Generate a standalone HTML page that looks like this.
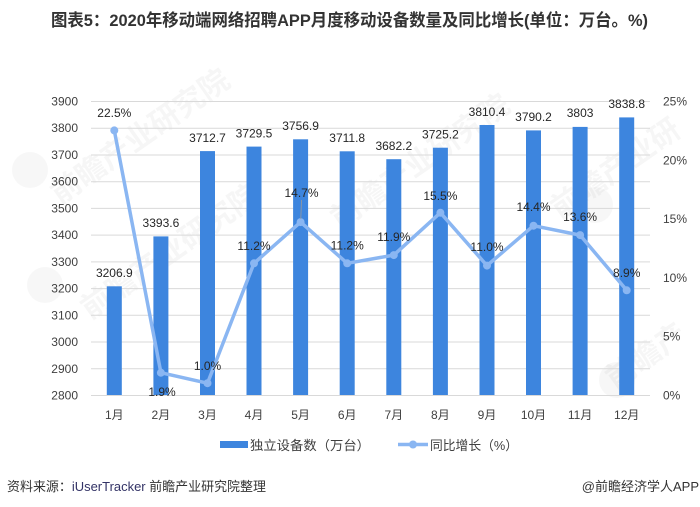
<!DOCTYPE html>
<html><head><meta charset="utf-8"><style>
html,body{margin:0;padding:0;background:#fff;}
svg{display:block;}
text{font-family:"Liberation Sans","Noto Sans CJK SC",sans-serif;}
</style></head><body>
<svg width="700" height="507" viewBox="0 0 700 507" xmlns="http://www.w3.org/2000/svg">
<rect width="700" height="507" fill="#fff"/>
<!-- watermarks -->
<g fill="#000" opacity="0.03" font-size="30" font-weight="bold">
<text transform="translate(60,205) rotate(-35)">前瞻产业研究院</text>
<text transform="translate(90,320) rotate(-35)">前瞻产业研究院</text>
<text transform="translate(340,230) rotate(-35)">前瞻产业研究院</text>
<text transform="translate(560,220) rotate(-35)">前瞻产业研</text>
<text transform="translate(615,390) rotate(-35)">前瞻产</text>
</g>
<g fill="#000" opacity="0.03">
<circle cx="30" cy="170" r="18"/><circle cx="45" cy="285" r="18"/><circle cx="595" cy="205" r="18"/><circle cx="617" cy="380" r="18"/>
</g>
<!-- title -->
<text x="51" y="26" font-size="17" font-weight="bold" fill="#333" textLength="597" lengthAdjust="spacingAndGlyphs">图表5：2020年移动端网络招聘APP月度移动设备数量及同比增长(单位：万台。%)</text>
<!-- gridlines -->
<g stroke="#d9d9d9" stroke-width="1">
<line x1="91" x2="650" y1="101.5" y2="101.5"/>
<line x1="91" x2="650" y1="128.2" y2="128.2"/>
<line x1="91" x2="650" y1="155" y2="155"/>
<line x1="91" x2="650" y1="181.7" y2="181.7"/>
<line x1="91" x2="650" y1="208.4" y2="208.4"/>
<line x1="91" x2="650" y1="235.1" y2="235.1"/>
<line x1="91" x2="650" y1="261.9" y2="261.9"/>
<line x1="91" x2="650" y1="288.6" y2="288.6"/>
<line x1="91" x2="650" y1="315.3" y2="315.3"/>
<line x1="91" x2="650" y1="342" y2="342"/>
<line x1="91" x2="650" y1="368.8" y2="368.8"/>
<line x1="91" x2="650" y1="395.5" y2="395.5"/>
</g>
<!-- left axis labels -->
<g font-size="12" fill="#404040" text-anchor="end">
<text x="78" y="105.5">3900</text>
<text x="78" y="132.2">3800</text>
<text x="78" y="159">3700</text>
<text x="78" y="185.7">3600</text>
<text x="78" y="212.4">3500</text>
<text x="78" y="239.1">3400</text>
<text x="78" y="265.9">3300</text>
<text x="78" y="292.6">3200</text>
<text x="78" y="319.3">3100</text>
<text x="78" y="346">3000</text>
<text x="78" y="372.8">2900</text>
<text x="78" y="399.5">2800</text>
</g>
<!-- right axis labels -->
<g font-size="12" fill="#404040">
<text x="663" y="105.5">25%</text>
<text x="663" y="164.3">20%</text>
<text x="663" y="223.1">15%</text>
<text x="663" y="281.9">10%</text>
<text x="663" y="340.7">5%</text>
<text x="663" y="399.5">0%</text>
</g>
<!-- bars -->
<g fill="#3d85de">
<rect x="106.8" y="286.3" width="15" height="108.7"/>
<rect x="153.4" y="236.4" width="15" height="158.6"/>
<rect x="200" y="151.1" width="15" height="243.9"/>
<rect x="246.5" y="146.6" width="15" height="248.4"/>
<rect x="293.1" y="139.3" width="15" height="255.7"/>
<rect x="339.7" y="151.3" width="15" height="243.7"/>
<rect x="386.3" y="159.2" width="15" height="235.8"/>
<rect x="432.9" y="147.7" width="15" height="247.3"/>
<rect x="479.5" y="125" width="15" height="270"/>
<rect x="526" y="130.4" width="15" height="264.6"/>
<rect x="572.6" y="126.9" width="15" height="268.1"/>
<rect x="619.2" y="117.4" width="15" height="277.6"/>
</g>
<!-- bar value labels -->
<g font-size="12" fill="#262626" text-anchor="middle">
<text x="114.3" y="277">3206.9</text>
<text x="160.9" y="227">3393.6</text>
<text x="207.5" y="142">3712.7</text>
<text x="254" y="137.5">3729.5</text>
<text x="300.6" y="130">3756.9</text>
<text x="347.2" y="142">3711.8</text>
<text x="393.8" y="150">3682.2</text>
<text x="440.4" y="138.5">3725.2</text>
<text x="487" y="116">3810.4</text>
<text x="533.5" y="121">3790.2</text>
<text x="580.1" y="117">3803</text>
<text x="626.7" y="108">3838.8</text>
</g>
<!-- line series -->
<polyline fill="none" stroke="#8ab6f2" stroke-width="3.5" stroke-linejoin="round" points="114.3,130.4 160.9,372.7 207.5,383.2 254,263.3 300.6,222.1 347.2,263.3 393.8,255.1 440.4,212.7 487,265.6 533.5,225.7 580.1,235.1 626.7,290.3"/>
<g fill="#8ab6f2">
<circle cx="114.3" cy="130.4" r="4"/><circle cx="160.9" cy="372.7" r="4"/><circle cx="207.5" cy="383.2" r="4"/><circle cx="254" cy="263.3" r="4"/><circle cx="300.6" cy="222.1" r="4"/><circle cx="347.2" cy="263.3" r="4"/><circle cx="393.8" cy="255.1" r="4"/><circle cx="440.4" cy="212.7" r="4"/><circle cx="487" cy="265.6" r="4"/><circle cx="533.5" cy="225.7" r="4"/><circle cx="580.1" cy="235.1" r="4"/><circle cx="626.7" cy="290.3" r="4"/>
</g>
<line x1="301.5" y1="200" x2="300.8" y2="219" stroke="#999" stroke-width="0.8"/>
<!-- line labels -->
<g font-size="12" fill="#262626" text-anchor="middle">
<text x="114.3" y="117">22.5%</text>
<text x="162" y="396">1.9%</text>
<text x="207.5" y="370">1.0%</text>
<text x="254" y="250">11.2%</text>
<text x="301.5" y="197">14.7%</text>
<text x="347.2" y="249.5">11.2%</text>
<text x="393.8" y="241">11.9%</text>
<text x="440.4" y="200">15.5%</text>
<text x="487" y="251">11.0%</text>
<text x="533.5" y="211">14.4%</text>
<text x="580.1" y="221">13.6%</text>
<text x="626.7" y="277">8.9%</text>
</g>
<!-- x labels -->
<g font-size="12" fill="#404040" text-anchor="middle">
<text x="114.3" y="419">1月</text>
<text x="160.9" y="419">2月</text>
<text x="207.5" y="419">3月</text>
<text x="254" y="419">4月</text>
<text x="300.6" y="419">5月</text>
<text x="347.2" y="419">6月</text>
<text x="393.8" y="419">7月</text>
<text x="440.4" y="419">8月</text>
<text x="487" y="419">9月</text>
<text x="533.5" y="419">10月</text>
<text x="580.1" y="419">11月</text>
<text x="626.7" y="419">12月</text>
</g>
<!-- legend -->
<rect x="220" y="441" width="28" height="7" fill="#3d85de"/>
<text x="250" y="450" font-size="13" fill="#404040" textLength="120" lengthAdjust="spacingAndGlyphs">独立设备数（万台）</text>
<line x1="398" y1="444.5" x2="428" y2="444.5" stroke="#8ab6f2" stroke-width="3.5"/>
<circle cx="413" cy="444.5" r="4" fill="#8ab6f2"/>
<text x="430" y="450" font-size="13" fill="#404040" textLength="88" lengthAdjust="spacingAndGlyphs">同比增长（%）</text>
<!-- footer -->
<text x="7" y="491" font-size="13" fill="#333" textLength="259" lengthAdjust="spacingAndGlyphs">资料来源：<tspan fill="#333366">iUserTracker</tspan> 前瞻产业研究院整理</text>
<text x="699" y="491" font-size="13" fill="#333" text-anchor="end">@前瞻经济学人APP</text>
</svg>
</body></html>
